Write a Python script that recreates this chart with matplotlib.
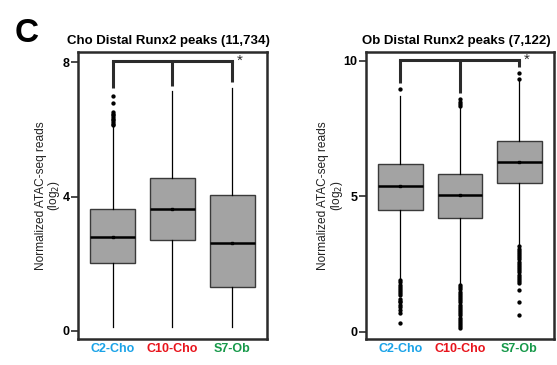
import matplotlib
matplotlib.use("Agg")
import matplotlib.pyplot as plt

plt.rcParams["font.family"] = ["Liberation Sans", "DejaVu Sans"]

GROUPS = ["C2-Cho", "C10-Cho", "S7-Ob"]
GROUP_COLORS = ["#1aa3e8", "#e8141c", "#17994a"]

# Cho distal Runx2 peaks (11,734)
cho_title = "Cho Distal Runx2 peaks (11,734)"
cho_q1 = [2.01, 2.70, 1.31]
cho_med = [2.80, 3.64, 2.62]
cho_q3 = [3.64, 4.55, 4.06]
cho_whislo = [0.13, 0.13, 0.13]
cho_whishi = [6.07, 7.15, 7.22]
cho_mean = [2.80, 3.64, 2.62]
cho_fliers = [
    [6.99, 6.79, 6.52, 6.47, 6.42, 6.37, 6.32, 6.27, 6.22, 6.17, 6.12],
    [],
    [],
]
cho_bracket = [8.04, 7.22, 7.29, 7.41]  # top, left/mid/right leg ends
cho_yticks = [0, 4, 8]
cho_ylim = (-0.24, 8.3)

# Ob distal Runx2 peaks (7,122)
ob_title = "Ob Distal Runx2 peaks (7,122)"
ob_q1 = [4.48, 4.20, 5.50]
ob_med = [5.37, 5.06, 6.27]
ob_q3 = [6.21, 5.83, 7.04]
ob_whislo = [1.94, 1.79, 3.21]
ob_whishi = [8.70, 8.27, 9.25]
ob_mean = [5.37, 5.06, 6.27]
ob_fliers = [
    [8.95, 1.90, 1.82, 1.74, 1.66, 1.58, 1.50, 1.42, 1.34, 1.22, 1.15,
     1.08, 1.00, 0.92, 0.80, 0.68, 0.33],
    [8.58, 8.50, 8.42, 8.34, 1.72, 1.64, 1.56, 1.48, 1.40, 1.32, 1.24,
     1.16, 1.08, 1.00, 0.92, 0.84, 0.76, 0.68, 0.60, 0.52, 0.44, 0.36,
     0.28, 0.20, 0.13],
    [9.57, 9.35, 3.15, 3.07, 2.99, 2.91, 2.83, 2.75, 2.67, 2.59, 2.51,
     2.43, 2.35, 2.27, 2.19, 2.11, 2.03, 1.95, 1.87, 1.79, 1.54, 1.11, 0.62],
]
ob_bracket = [10.03, 9.20, 8.83, 9.76]
ob_yticks = [0, 5, 10]
ob_ylim = (-0.27, 10.33)

DARK = "#2b2b2b"


def draw_panel(ax, title, q1, med, q3, whislo, whishi, mean, fliers,
               bracket, yticks, ylim, label_x):
    stats = []
    for i, name in enumerate(GROUPS):
        stats.append(dict(label=name, q1=q1[i], med=med[i], q3=q3[i],
                          whislo=whislo[i], whishi=whishi[i],
                          mean=mean[i], fliers=fliers[i]))
    pos = [1, 2, 3]
    ax.bxp(stats, positions=pos, widths=0.75, patch_artist=True,
           showmeans=True, showcaps=False,
           boxprops=dict(facecolor="#a3a3a3", edgecolor="#3a3a3a", linewidth=1.0),
           medianprops=dict(color="black", linewidth=1.8),
           whiskerprops=dict(color="black", linewidth=0.9),
           meanprops=dict(marker="s", markersize=2.0, markerfacecolor="black",
                          markeredgecolor="black"),
           flierprops=dict(marker="o", markersize=2.1, markerfacecolor="black",
                           markeredgecolor="black", linestyle="none"))

    # significance bracket
    top = bracket[0]
    ax.plot([pos[0], pos[2]], [top, top], color=DARK, lw=2.2,
            solid_capstyle="projecting")
    for p, end in zip(pos, bracket[1:]):
        ax.plot([p, p], [top, end], color=DARK, lw=2.2, solid_capstyle="butt")
    ax.text(pos[2] + 0.07, top, "*", ha="left", va="center", fontsize=11,
            color=DARK)

    ax.set_xlim(0.42, 3.58)
    ax.set_ylim(*ylim)
    ax.set_yticks(yticks)
    ax.set_yticklabels([str(t) for t in yticks], fontsize=9, fontweight="bold")
    ax.set_xticks(pos)
    ax.set_xticklabels(GROUPS, fontsize=9, fontweight="bold")
    for lab, c in zip(ax.get_xticklabels(), GROUP_COLORS):
        lab.set_color(c)
    ax.tick_params(axis="x", length=0, pad=3)
    ax.tick_params(axis="y", length=5, width=1.2, color=DARK, pad=1)
    for sp in ax.spines.values():
        sp.set_linewidth(1.8)
        sp.set_color(DARK)
    ax.set_title(title, fontsize=9.5, fontweight="bold", pad=6, x=0.48)
    ax.set_ylabel("Normalized ATAC-seq reads\n(log$_2$)", fontsize=8.6,
                  linespacing=0.95, color="#222222")
    ax.yaxis.set_label_coords(label_x, 0.5)


fig = plt.figure(figsize=(5.57, 3.65), dpi=100)
ax1 = fig.add_axes([0.140, 0.0712, 0.339, 0.7863])
ax2 = fig.add_axes([0.657, 0.0712, 0.3375, 0.7863])

draw_panel(ax1, cho_title, cho_q1, cho_med, cho_q3, cho_whislo, cho_whishi,
           cho_mean, cho_fliers, cho_bracket, cho_yticks, cho_ylim, -0.082)
draw_panel(ax2, ob_title, ob_q1, ob_med, ob_q3, ob_whislo, ob_whishi,
           ob_mean, ob_fliers, ob_bracket, ob_yticks, ob_ylim, -0.112)

fig.text(0.027, 0.952, "C", fontsize=24, fontweight="bold", va="top", ha="left")

fig.savefig("out.png", dpi=100)
